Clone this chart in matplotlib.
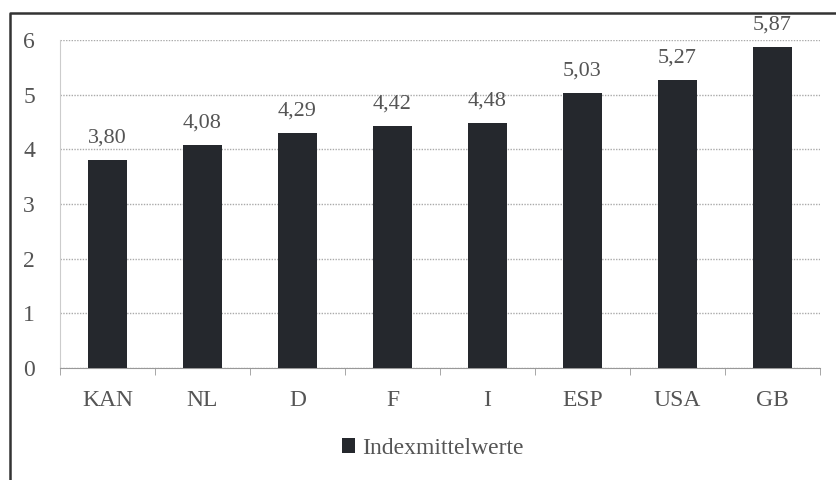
import numpy as np
import matplotlib
matplotlib.use("Agg")
import matplotlib.pyplot as plt
from matplotlib.lines import Line2D

laender = ["KAN", "NL", "D", "F", "I", "ESP", "USA", "GB"]
werte = [3.80, 4.08, 4.29, 4.42, 4.48, 5.03, 5.27, 5.87]
serie = "Indexmittelwerte"

plt.rcParams["font.family"] = ["Liberation Serif", "DejaVu Serif"]
txt = "#555555"
balken = "#25282d"

fig = plt.figure(figsize=(8.37, 4.8), dpi=100)
# only the left and top edge of the scanned frame are visible
fig.lines.append(Line2D([10 / 837, 10 / 837, 1], [0, 1 - 13 / 480, 1 - 13 / 480],
                        transform=fig.transFigure, color="#333333", linewidth=1.8))

ax = fig.add_axes([60 / 837, 1 - 368 / 480, 760 / 837, 328 / 480])
x = np.arange(len(laender))
ax.bar(x, werte, width=0.41, color=balken, label=serie, zorder=3)

for xi, v in zip(x, werte):
    ax.annotate(f"{v:.2f}".replace(".", ","), (xi, v), xytext=(0, 9),
                textcoords="offset points", ha="center", va="bottom",
                fontsize=16, color=txt, annotation_clip=False)

ax.set_xlim(-0.5, len(laender) - 0.5)
ax.set_ylim(0, 6)
ax.set_yticks(range(7))
ax.grid(axis="y", color="#aaaaaa", linestyle=(0, (1, 1)), linewidth=1, zorder=0)

ax.set_xticks(x)
ax.set_xticklabels(laender)
ax.set_xticks(np.arange(-0.5, len(laender)), minor=True)
ax.tick_params(axis="x", which="major", length=0, pad=16, labelsize=17, labelcolor=txt)
ax.tick_params(axis="x", which="minor", length=5, color="#999999", direction="out")
ax.tick_params(axis="y", length=0, pad=18, labelsize=17, labelcolor=txt)

for s in ["top", "right"]:
    ax.spines[s].set_visible(False)
ax.spines["left"].set_color("#cccccc")
ax.spines["bottom"].set_color("#999999")

ax.legend(loc="center", bbox_to_anchor=(0.49, -0.245), frameon=False,
          fontsize=17, labelcolor=txt, handlelength=0.55, handleheight=0.55,
          handletextpad=0.3)

plt.savefig("out.png", dpi=100)
